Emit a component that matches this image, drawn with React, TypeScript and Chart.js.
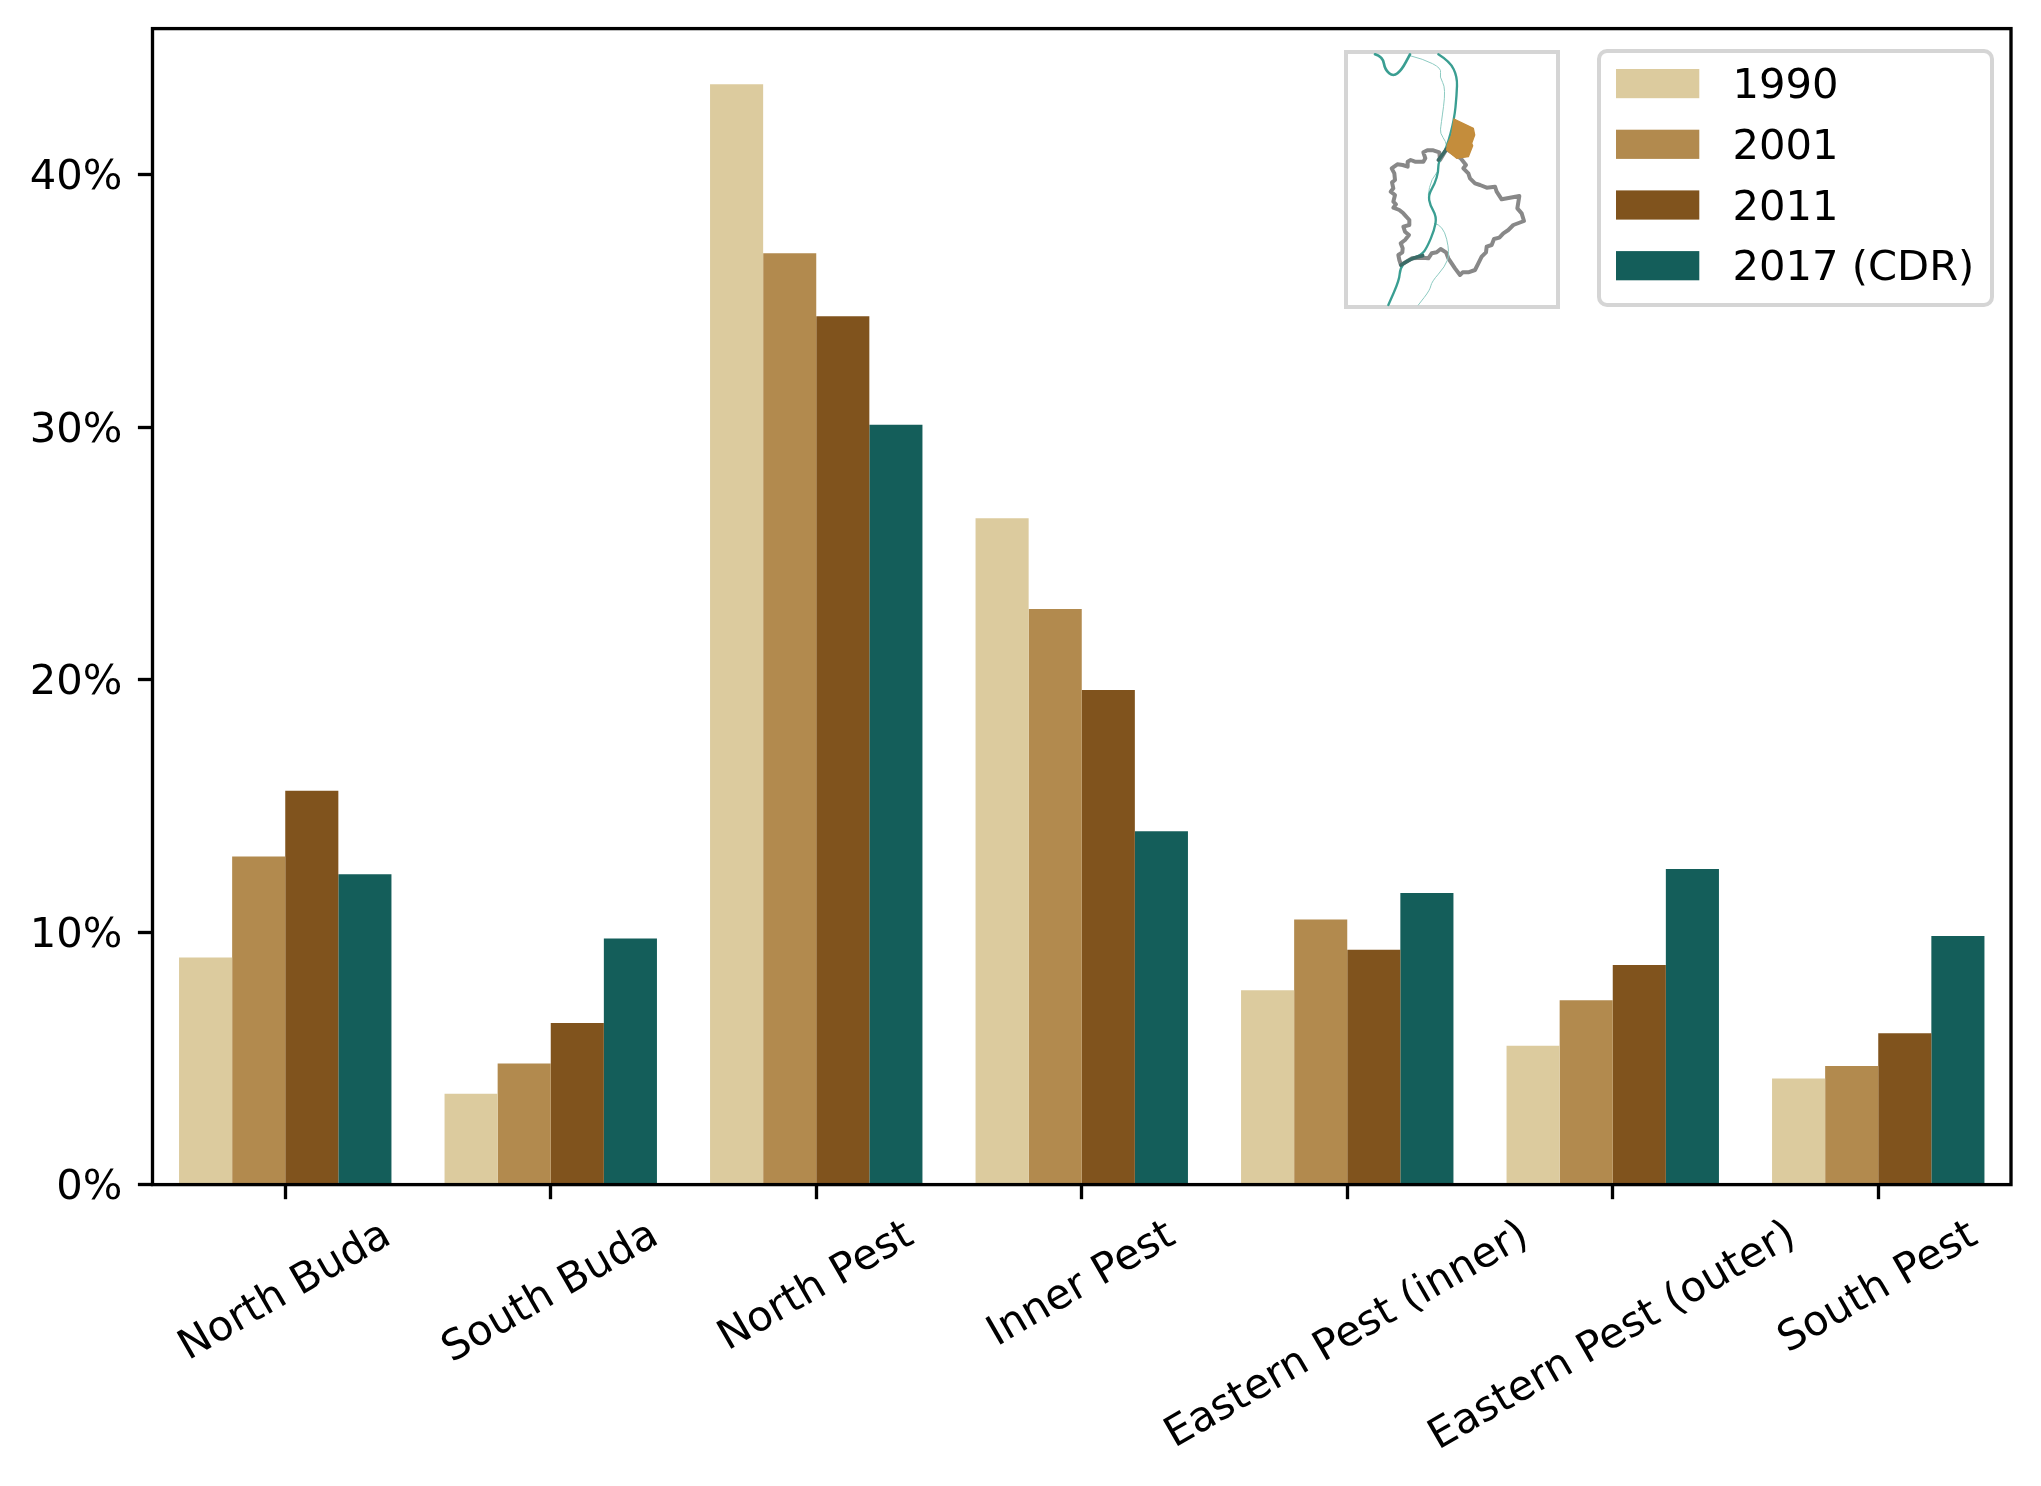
import React, { useEffect, useRef } from 'react';
import Chart from 'chart.js/auto';

const districts = [
  'North Buda',
  'South Buda',
  'North Pest',
  'Inner Pest',
  'Eastern Pest (inner)',
  'Eastern Pest (outer)',
  'South Pest',
];
const values1990 = [9.0, 3.6, 43.6, 26.4, 7.7, 5.5, 4.2];
const values2001 = [13.0, 4.8, 36.9, 22.8, 10.5, 7.3, 4.7];
const values2011 = [15.6, 6.4, 34.4, 19.6, 9.3, 8.7, 6.0];
const values2017 = [12.3, 9.75, 30.1, 14.0, 11.55, 12.5, 9.85];

const FONT = '"DejaVu Sans"';
const FONT_PX = 41.67;
const TICK_LEN = 14.6;
const LINE_W = 3.33;
const FRAME_GREY = '#d5d5d5';

// inset map outlines, in a local box that gets scaled down when drawn
const cityOutline = [
  [300, 345], [298, 322], [280, 316], [262, 316], [250, 322], [256, 340], [250, 350], [225, 350],
  [212, 345], [203, 350], [203, 365], [188, 360], [172, 358], [155, 370], [163, 385], [165, 405],
  [156, 412], [160, 430], [152, 440], [165, 450], [160, 470], [168, 478], [160, 488], [178, 495],
  [190, 505], [208, 525], [208, 540], [190, 545], [195, 560], [207, 570], [195, 585], [182, 595],
  [188, 610], [187, 622], [175, 630], [178, 645], [183, 660], [215, 640], [248, 638], [265, 640],
  [275, 625], [290, 622], [302, 612], [318, 622], [325, 640], [345, 670], [360, 690], [368, 682],
  [385, 682], [405, 675], [415, 655], [425, 635], [438, 622], [440, 605], [455, 600], [462, 582],
  [478, 578], [490, 565], [505, 555], [520, 540], [552, 528], [545, 505], [532, 490], [538, 453],
  [510, 458], [485, 463], [470, 440], [465, 425], [440, 428], [420, 420], [405, 415], [390, 400],
  [385, 385], [370, 370], [378, 360], [362, 340], [320, 312],
];
const highlightArea = [
  [342, 222], [400, 250], [404, 270], [395, 295], [398, 302], [385, 335], [350, 340], [320, 315],
  [322, 300], [335, 270],
];
const mainRiver = [
  [295, 28], [330, 50], [352, 95], [350, 150], [343, 222], [320, 310], [295, 350], [295, 380],
  [285, 415], [265, 450], [270, 480], [290, 515], [283, 555], [262, 605], [245, 630], [200, 645],
  [180, 670], [178, 705], [145, 780],
];
const northBend = [[105, 28], [128, 35], [135, 75], [160, 95], [185, 75], [210, 28]];
const sideBranches = [
  [[210, 32], [250, 42], [305, 70], [298, 95], [318, 130], [303, 240], [300, 265], [318, 290], [320, 310]],
  [[283, 535], [310, 540], [330, 625], [315, 665], [275, 710], [270, 735], [235, 780]],
  [[292, 380], [272, 405], [265, 450]],
];
const darkOverlaps = [
  [[295, 345], [320, 312]],
  [[183, 660], [215, 640], [248, 632]],
];

function tracePath(ctx: CanvasRenderingContext2D, pts: number[][]) {
  ctx.beginPath();
  pts.forEach(([x, y], i) => (i === 0 ? ctx.moveTo(x, y) : ctx.lineTo(x, y)));
}

// rounded version for the rivers, curves through the midpoints
function traceSmooth(ctx: CanvasRenderingContext2D, pts: number[][]) {
  ctx.beginPath();
  ctx.moveTo(pts[0][0], pts[0][1]);
  for (let i = 1; i < pts.length - 1; i++) {
    const mx = (pts[i][0] + pts[i + 1][0]) / 2;
    const my = (pts[i][1] + pts[i + 1][1]) / 2;
    ctx.quadraticCurveTo(pts[i][0], pts[i][1], mx, my);
  }
  const last = pts[pts.length - 1];
  ctx.lineTo(last[0], last[1]);
}

const insetMap = {
  id: 'insetMap',
  afterDraw(chart: Chart) {
    const ctx = chart.ctx;
    ctx.save();
    ctx.strokeStyle = FRAME_GREY;
    ctx.lineWidth = 4;
    ctx.strokeRect(1346, 52, 212, 255);

    ctx.translate(1340, 45);
    ctx.scale(1 / 3, 1 / 3);
    ctx.lineJoin = 'round';
    ctx.lineCap = 'round';

    tracePath(ctx, cityOutline);
    ctx.closePath();
    ctx.strokeStyle = '#888888';
    ctx.lineWidth = 12;
    ctx.stroke();

    ctx.strokeStyle = '#8ccac1';
    ctx.lineWidth = 3;
    sideBranches.forEach((b) => {
      traceSmooth(ctx, b);
      ctx.stroke();
    });

    ctx.strokeStyle = '#3a9e92';
    ctx.lineWidth = 7;
    traceSmooth(ctx, mainRiver);
    ctx.stroke();
    ctx.lineWidth = 8;
    traceSmooth(ctx, northBend);
    ctx.stroke();

    ctx.strokeStyle = '#3c6b67';
    ctx.lineWidth = 11;
    darkOverlaps.forEach((b) => {
      traceSmooth(ctx, b);
      ctx.stroke();
    });

    tracePath(ctx, highlightArea);
    ctx.closePath();
    ctx.fillStyle = '#c48d3c';
    ctx.strokeStyle = '#c48d3c';
    ctx.lineWidth = 4;
    ctx.fill();
    ctx.stroke();
    ctx.restore();
  },
};

const boxLegend = {
  id: 'boxLegend',
  afterDraw(chart: Chart) {
    const ctx = chart.ctx;
    ctx.save();
    ctx.beginPath();
    ctx.roundRect(1599, 51, 393, 254, 8);
    ctx.fillStyle = '#ffffff';
    ctx.fill();
    ctx.strokeStyle = FRAME_GREY;
    ctx.lineWidth = 4;
    ctx.stroke();

    ctx.font = `${FONT_PX}px ${FONT}`;
    ctx.textAlign = 'left';
    ctx.textBaseline = 'alphabetic';
    chart.data.datasets.forEach((ds, i) => {
      const bottom = 98.2 + i * 60.7;
      ctx.fillStyle = ds.backgroundColor as string;
      ctx.fillRect(1616, bottom - 29.2, 83.3, 29.2);
      ctx.fillStyle = '#000000';
      ctx.fillText(ds.label as string, 1732.5, bottom);
    });
    ctx.restore();
  },
};

// matplotlib centres rotated labels on the tick, Chart.js anchors their right end
const centredTickLabels = {
  id: 'centredTickLabels',
  afterDraw(chart: Chart) {
    const ctx = chart.ctx;
    const scale = chart.scales.x;
    const angle = (30 * Math.PI) / 180;
    const top = chart.chartArea.bottom + TICK_LEN * 2;
    ctx.save();
    ctx.font = `${FONT_PX}px ${FONT}`;
    ctx.textAlign = 'center';
    ctx.textBaseline = 'middle';
    ctx.fillStyle = '#000000';
    districts.forEach((name, i) => {
      const w = ctx.measureText(name).width;
      const boxH = w * Math.sin(angle) + FONT_PX * Math.cos(angle);
      ctx.save();
      ctx.translate(scale.getPixelForTick(i), top + boxH / 2 + 1);
      ctx.rotate(-angle);
      ctx.fillText(name, 0, 0);
      ctx.restore();
    });
    ctx.restore();
  },
};

const frameBox = {
  id: 'frameBox',
  afterDatasetsDraw(chart: Chart) {
    const { left, top, width, height } = chart.chartArea;
    const ctx = chart.ctx;
    ctx.save();
    ctx.strokeStyle = '#000000';
    ctx.lineWidth = LINE_W;
    ctx.strokeRect(left, top, width, height);
    ctx.restore();
  },
};

const App: React.FC = () => {
  const chartRef = useRef<HTMLCanvasElement | null>(null);

  useEffect(() => {
    if (!chartRef.current) return;
    const chart = new Chart(chartRef.current, {
      type: 'bar',
      data: {
        labels: districts,
        datasets: [
          { label: '1990', data: values1990, backgroundColor: '#dccb9e' },
          { label: '2001', data: values2001, backgroundColor: '#b28a4e' },
          { label: '2011', data: values2011, backgroundColor: '#80531d' },
          { label: '2017 (CDR)', data: values2017, backgroundColor: '#145e5a' },
        ],
      },
      options: {
        responsive: false,
        animation: false,
        devicePixelRatio: 1,
        layout: { padding: { top: 28.6, right: 30, left: 0, bottom: 0 } },
        datasets: { bar: { categoryPercentage: 0.8, barPercentage: 1, borderWidth: 0 } },
        plugins: { legend: { display: false }, tooltip: { enabled: false } },
        scales: {
          x: {
            afterFit: (s) => {
              s.height = 301.4;
            },
            grid: {
              offset: false,
              drawOnChartArea: false,
              tickLength: TICK_LEN,
              tickWidth: LINE_W,
              tickColor: '#000000',
            },
            border: { display: false },
            ticks: { display: false },
          },
          y: {
            min: 0,
            max: 45.8,
            afterFit: (s) => {
              s.width = 152.5;
              s.paddingTop = 0;
              s.paddingBottom = 0;
            },
            grid: {
              drawOnChartArea: false,
              tickLength: TICK_LEN,
              tickWidth: LINE_W,
              tickColor: '#000000',
            },
            border: { display: false },
            ticks: {
              stepSize: 10,
              includeBounds: false,
              padding: TICK_LEN + 1,
              labelOffset: 3.5,
              color: '#000000',
              font: { family: FONT, size: FONT_PX },
              callback: (v) => `${v}%`,
            },
          },
        },
      },
      plugins: [frameBox, centredTickLabels, insetMap, boxLegend],
    });
    return () => {
      chart.destroy();
    };
  }, []);

  return (
    <div style={{ position: 'absolute', left: 0, top: 0, width: 2041, height: 1486, background: '#fff' }}>
      <canvas ref={chartRef} width={2041} height={1486} style={{ display: 'block' }} />
    </div>
  );
};

export default App;
